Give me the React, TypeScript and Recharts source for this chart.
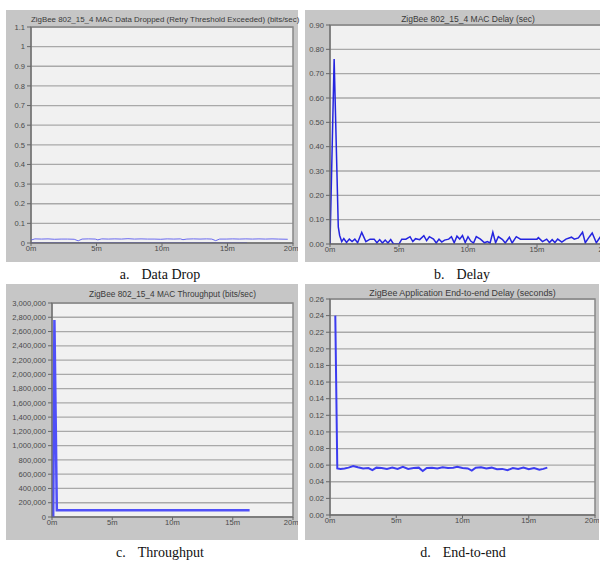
import { LineChart, Line, XAxis, YAxis, CartesianGrid, ReferenceArea } from "recharts";

// x axis (minutes) shared by all four panels
const minuteTicks = [0, 5, 10, 15, 20];

// a. Data Drop
const dropTicks = [0, 0.1, 0.2, 0.3, 0.4, 0.5, 0.6, 0.7, 0.8, 0.9, 1, 1.1];
const dropTimes = [0, 0.3, 0.8, 1.3, 1.8, 2.3, 2.8, 3.3, 3.6, 3.9, 4.4, 4.9, 5.1, 5.4, 5.9, 6.4, 6.9, 7.4, 7.9, 8.4, 8.9, 9.4, 9.9, 10.4, 10.9, 11.4, 11.6, 11.9, 12.4, 12.9, 13.4, 13.8, 14.1, 14.4, 14.9, 15.4, 15.9, 16.4, 16.9, 17.4, 17.9, 18.4, 18.9, 19.6];
const dropValues = [0.015, 0.021, 0.02, 0.021, 0.019, 0.02, 0.02, 0.019, 0.011, 0.02, 0.021, 0.02, 0.016, 0.021, 0.02, 0.021, 0.02, 0.022, 0.02, 0.021, 0.02, 0.02, 0.019, 0.021, 0.02, 0.021, 0.017, 0.02, 0.021, 0.02, 0.021, 0.02, 0.012, 0.02, 0.02, 0.021, 0.02, 0.021, 0.02, 0.021, 0.02, 0.021, 0.02, 0.019];
const dropZeroTimes = [0, 16.5];
const dropZeroValues = [0, 0];

// b. Delay
const delayTicks = [0, 0.1, 0.2, 0.3, 0.4, 0.5, 0.6, 0.7, 0.8, 0.9];
const delayTimes = [0, 0.3, 0.6, 0.7, 0.85, 1.0, 1.2, 1.4, 1.6, 1.8, 2.0, 2.3, 2.6, 2.9, 3.2, 3.4, 3.6, 3.8, 4.0, 4.2, 4.4, 4.6, 5.0, 5.2, 5.5, 5.8, 6.0, 6.2, 6.5, 6.8, 7.0, 7.2, 7.5, 7.7, 7.9, 8.1, 8.3, 8.6, 8.8, 9.0, 9.2, 9.4, 9.6, 9.8, 10.0, 10.2, 10.4, 10.6, 10.9, 11.2, 11.4, 11.6, 11.8, 12.0, 12.2, 12.5, 12.7, 13.0, 13.2, 13.5, 13.8, 14.4, 15.0, 15.1, 15.4, 15.7, 15.9, 16.1, 16.3, 16.5, 16.8, 17.1, 17.5, 17.7, 18.0, 18.3, 18.5, 18.8, 19.0, 19.3, 19.6, 19.9];
const delayValues = [0, 0.76, 0.07, 0.035, 0.01, 0.022, 0.006, 0.02, 0.01, 0.02, 0.005, 0.048, 0.01, 0.02, 0.02, 0.005, 0.018, 0.004, 0.016, 0.004, 0.018, 0, 0, 0.02, 0.02, 0.03, 0.01, 0.022, 0.018, 0.034, 0.014, 0.03, 0.02, 0.004, 0.02, 0.008, 0.016, 0.02, 0.03, 0.005, 0.032, 0.02, 0.035, 0.006, 0.03, 0.012, 0.004, 0.03, 0.02, 0.005, 0.01, 0.004, 0.048, 0.005, 0.03, 0.018, 0.004, 0.028, 0.004, 0.03, 0.02, 0.02, 0.02, 0.026, 0.01, 0.02, 0.006, 0.018, 0.006, 0.02, 0.008, 0.02, 0.028, 0.02, 0.025, 0.048, 0.005, 0.03, 0.045, 0.005, 0.03, 0.02];

// c. Throughput
const tputTicks = [0, 200000, 400000, 600000, 800000, 1000000, 1200000, 1400000, 1600000, 1800000, 2000000, 2200000, 2400000, 2600000, 2800000, 3000000];
const tputTimes = [0.1, 0.2, 0.4, 2, 4, 6, 8, 10, 12, 14, 16.4];
const tputValues = [0, 2760000, 95000, 95000, 95000, 95000, 95000, 95000, 95000, 95000, 95000];

// d. End-to-end
const e2eTicks = [0, 0.02, 0.04, 0.06, 0.08, 0.1, 0.12, 0.14, 0.16, 0.18, 0.2, 0.22, 0.24, 0.26];
const e2eTimes = [0.4, 0.55, 0.8, 1.1, 1.4, 1.75, 2.1, 2.5, 2.9, 3.2, 3.5, 3.9, 4.3, 4.7, 5.1, 5.5, 5.9, 6.3, 6.7, 7.0, 7.3, 7.7, 8.1, 8.5, 8.9, 9.3, 9.6, 10.0, 10.4, 10.7, 11.0, 11.4, 11.8, 12.2, 12.6, 13.0, 13.4, 13.8, 14.2, 14.6, 15.0, 15.4, 15.8, 16.1, 16.4];
const e2eValues = [0.24, 0.056, 0.0555, 0.056, 0.057, 0.059, 0.0575, 0.056, 0.0565, 0.054, 0.057, 0.0565, 0.0555, 0.057, 0.0555, 0.058, 0.0555, 0.0565, 0.057, 0.053, 0.0565, 0.057, 0.056, 0.0575, 0.0565, 0.057, 0.058, 0.0565, 0.056, 0.0535, 0.057, 0.0575, 0.056, 0.057, 0.055, 0.0555, 0.054, 0.0565, 0.0555, 0.057, 0.055, 0.0565, 0.0545, 0.0555, 0.057];

const zip = (ts: number[], vs: number[]) => ts.map((t, i) => ({ t, v: vs[i] }));

const FRAME = "#c6c6c6";
const PLOT_BG = "#f1f1f1";
const GRID = "#a9a9a9";
const SANS = "'Liberation Sans', Arial, sans-serif";
const SERIF = "'Liberation Serif', 'Times New Roman', serif";

interface Series {
  data: { t: number; v: number }[];
  color: string;
  width: number;
}

interface PanelProps {
  x: number;
  y: number;
  w: number;
  h: number;
  left: number; // plot left offset
  right: number;
  top: number;
  bottom: number;
  yTicks: number[];
  yFmt: (v: number) => string;
  title: string;
  titleSize: number;
  titleY: number;
  series: Series[];
}

function Panel(p: PanelProps) {
  const yMax = p.yTicks[p.yTicks.length - 1];
  const tickStyle = { fontSize: 7.6, fill: "#4a4a4a", fontFamily: SANS };
  return (
    <div style={{ position: "absolute", left: p.x, top: p.y, width: p.w, height: p.h, background: FRAME }}>
      <LineChart width={p.w} height={p.h} margin={{ top: p.top, right: p.right, left: 0, bottom: 0 }}>
        <CartesianGrid vertical={false} stroke={GRID} strokeWidth={1.3} fill={PLOT_BG} />
        <XAxis
          type="number"
          dataKey="t"
          domain={[0, 20]}
          ticks={minuteTicks}
          allowDataOverflow
          tickFormatter={(v) => `${v}m`}
          height={p.bottom}
          tickSize={3}
          tickMargin={0}
          tick={tickStyle}
          stroke="#666"
        />
        <YAxis
          type="number"
          domain={[0, yMax]}
          ticks={p.yTicks}
          interval={0}
          allowDataOverflow
          tickFormatter={p.yFmt}
          width={p.left}
          tickSize={4}
          tickMargin={2}
          tick={tickStyle}
          stroke="#666"
        />
        <ReferenceArea x1={0} x2={20} y1={0} y2={yMax} fill="none" stroke="#888" strokeWidth={1.5} />
        {p.series.map((s, i) => (
          <Line
            key={i}
            data={s.data}
            dataKey="v"
            type="linear"
            stroke={s.color}
            strokeWidth={s.width}
            dot={false}
            isAnimationActive={false}
          />
        ))}
      </LineChart>
      <div
        style={{
          position: "absolute",
          left: p.left,
          width: p.w - p.left - p.right,
          top: p.titleY - p.titleSize * 0.6,
          lineHeight: 1.2,
          textAlign: "center",
          whiteSpace: "nowrap",
          fontFamily: SANS,
          fontSize: p.titleSize,
          color: "#3a3a3a",
        }}
      >
        {p.title}
      </div>
    </div>
  );
}

function Caption({ cx, cy, letter, text }: { cx: number; cy: number; letter: string; text: string }) {
  return (
    <div
      style={{
        position: "absolute",
        left: cx - 100,
        width: 200,
        top: cy - 8,
        lineHeight: "16px",
        textAlign: "center",
        fontFamily: SERIF,
        fontSize: 14,
        color: "#111",
      }}
    >
      <span style={{ marginRight: 12 }}>{letter}</span>
      {text}
    </div>
  );
}

export default function App() {
  return (
    <div style={{ position: "absolute", left: 0, top: 0, width: 600, height: 561, overflow: "hidden", background: "#fff" }}>
      <Panel
        x={6} y={10} w={292} h={252}
        left={25} right={5} top={17} bottom={19}
        yTicks={dropTicks}
        yFmt={(v) => String(v)}
        title="ZigBee 802_15_4 MAC Data Dropped (Retry Threshold Exceeded) (bits/sec)"
        titleSize={7.9}
        titleY={10}
        series={[
          { data: zip(dropZeroTimes, dropZeroValues), color: "#5a5ae0", width: 1 },
          { data: zip(dropTimes, dropValues), color: "#6a6af0", width: 1 },
        ]}
      />
      <Panel
        x={305} y={10} w={310} h={252}
        left={25} right={9} top={15} bottom={18}
        yTicks={delayTicks}
        yFmt={(v) => v.toFixed(2)}
        title="ZigBee 802_15_4 MAC Delay (sec)"
        titleSize={8.5}
        titleY={9}
        series={[{ data: zip(delayTimes, delayValues), color: "#2424e0", width: 1.5 }]}
      />
      <Panel
        x={6} y={284} w={292} h={256}
        left={46} right={5} top={19} bottom={23}
        yTicks={tputTicks}
        yFmt={(v) => v.toLocaleString("en-US")}
        title="ZigBee 802_15_4 MAC Throughput (bits/sec)"
        titleSize={8.3}
        titleY={11}
        series={[{ data: zip(tputTimes, tputValues), color: "#5050f8", width: 2.5 }]}
      />
      <Panel
        x={305} y={284} w={294} h={256}
        left={25} right={4} top={15} bottom={25}
        yTicks={e2eTicks}
        yFmt={(v) => v.toFixed(2)}
        title="ZigBee Application End-to-end Delay (seconds)"
        titleSize={8.9}
        titleY={9}
        series={[{ data: zip(e2eTimes, e2eValues), color: "#3c3cf0", width: 2 }]}
      />
      <Caption cx={160} cy={275} letter="a." text="Data Drop" />
      <Caption cx={462} cy={275} letter="b." text="Delay" />
      <Caption cx={160} cy={553} letter="c." text="Throughput" />
      <Caption cx={463} cy={553} letter="d." text="End-to-end" />
    </div>
  );
}
